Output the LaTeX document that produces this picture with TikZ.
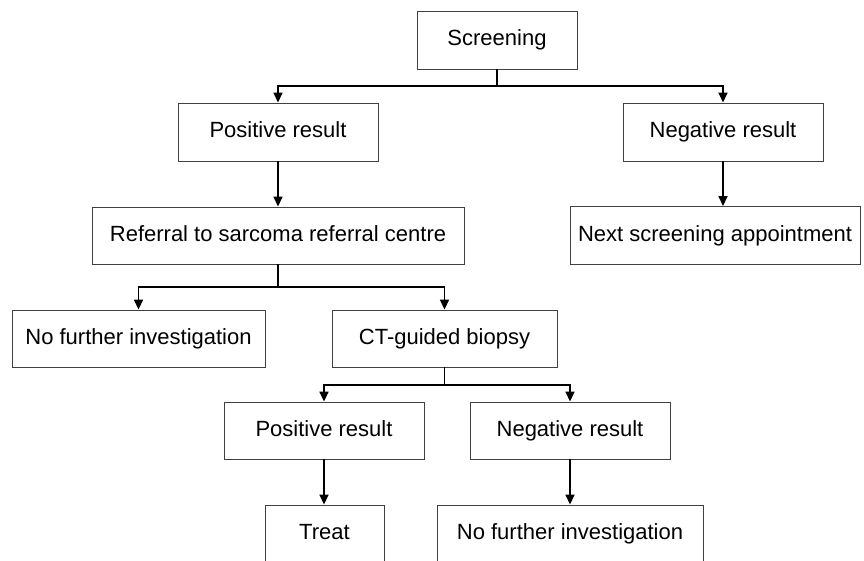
\documentclass[tikz,border=0pt]{standalone}
\usepackage{fontspec}
\setmainfont{Liberation Sans}
\usetikzlibrary{arrows.meta}
\begin{document}
\begin{tikzpicture}[x=1pt,y=-1pt,
  box/.style={draw=black!75, line width=0.9pt, fill=white, inner sep=0pt,
    font=\fontsize{22}{24}\selectfont, text height=15.5pt, text depth=4.5pt, anchor=center},
  link/.style={draw=black, line width=1.6pt},
  arr/.style={link, -{Triangle[length=10pt,width=9pt]}}]
\clip (0,0) rectangle (864,560);
\fill[white] (0,0) rectangle (864,560);
\node[box, minimum width=160pt, minimum height=58pt] (scr) at (497,40) {Screening};
\node[box, minimum width=200pt, minimum height=58pt] (pos) at (278,132) {Positive result};
\node[box, minimum width=200pt, minimum height=58pt] (neg) at (723,132) {Negative result};
\node[box, minimum width=372pt, minimum height=57pt] (ref) at (278,235.5) {Referral to sarcoma referral centre};
\node[box, minimum width=290pt, minimum height=58pt] (nxt) at (715,235.5) {Next screening appointment};
\node[box, minimum width=253pt, minimum height=57pt] (nfi) at (138.5,338.5) {No further investigation};
\node[box, minimum width=225pt, minimum height=57pt] (ct) at (444.5,338.5) {CT-guided biopsy};
\node[box, minimum width=200pt, minimum height=57pt] (posb) at (324,430.5) {Positive result};
\node[box, minimum width=200pt, minimum height=57pt] (negb) at (570,430.5) {Negative result};
\node[box, minimum width=119pt, minimum height=57pt] (tr) at (324.5,533.5) {Treat};
\node[box, minimum width=266pt, minimum height=57pt] (nfib) at (570,533.5) {No further investigation};
% junctions
\coordinate (j1) at (497,86);
\coordinate (j2) at (278,287);
\coordinate (j3) at (444.5,385);
\draw[link] (scr.south) -- (j1);
\draw[arr] (j1) -| (pos.north);
\draw[arr] (j1) -| (neg.north);
\draw[arr] (pos.south) -- (ref.north);
\draw[arr] (neg.south) -- (neg.south |- nxt.north);
\draw[link] (ref.south) -- (j2);
\draw[arr] (j2) -| (nfi.north);
\draw[arr] (j2) -| (ct.north);
\draw[link] (ct.south) -- (j3);
\draw[arr] (j3) -| (posb.north);
\draw[arr] (j3) -| (negb.north);
\draw[arr] (posb.south) -- (posb.south |- tr.north);
\draw[arr] (negb.south) -- (nfib.north);
\end{tikzpicture}
\end{document}
